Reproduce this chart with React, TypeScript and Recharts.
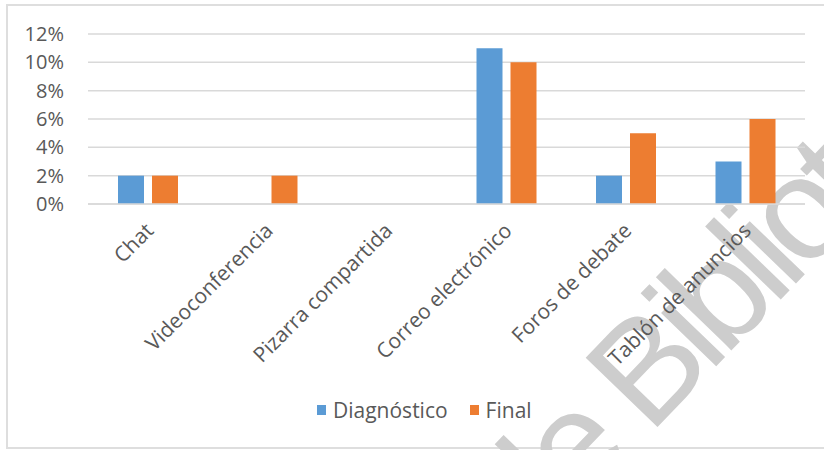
import React from "react";
import {
  BarChart,
  Bar,
  XAxis,
  YAxis,
  CartesianGrid,
  Legend,
} from "recharts";

const tools = [
  "Chat",
  "Videoconferencia",
  "Pizarra compartida",
  "Correo electrónico",
  "Foros de debate",
  "Tablón de anuncios",
];
const diagnostico = [2, 0, 0, 11, 2, 3];
const final = [2, 2, 0, 10, 5, 6];
const yTicks = [0, 2, 4, 6, 8, 10, 12];

const data = tools.map((tool, i) => ({
  tool,
  diagnostico: diagnostico[i],
  final: final[i],
}));

const BLUE = "#5B9BD5";
const ORANGE = "#ED7D31";
const TEXT = "#595959";
const FONT = "'Open Sans', sans-serif";

const ToolTick = (props: any) => {
  const { x, y, payload } = props;
  return (
    <g transform={`translate(${x + 7},${y + 20})`}>
      <text
        x={0}
        y={0}
        textAnchor="end"
        transform="rotate(-45)"
        fill={TEXT}
        fontSize={21}
        fontFamily={FONT}
      >
        {payload.value}
      </text>
    </g>
  );
};

const legendItems = [
  { label: "Diagnóstico", color: BLUE },
  { label: "Final", color: ORANGE },
];

const ChartLegend = () => (
  <div
    style={{
      display: "flex",
      alignItems: "center",
      gap: 22,
      paddingLeft: 317,
      fontFamily: FONT,
      fontSize: 21,
      color: TEXT,
    }}
  >
    {legendItems.map((item) => (
      <div key={item.label} style={{ display: "flex", alignItems: "center" }}>
        <span
          style={{
            width: 9,
            height: 10,
            background: item.color,
            marginRight: 7,
            display: "inline-block",
          }}
        />
        {item.label}
      </div>
    ))}
  </div>
);

export default function App() {
  return (
    <div
      style={{
        position: "absolute",
        left: 0,
        top: 0,
        width: 824,
        height: 450,
        background: "#fff",
        overflow: "hidden",
      }}
    >
      {/* outer frame, open on the right */}
      <div
        style={{
          position: "absolute",
          left: 6,
          top: 4,
          width: 840,
          height: 441,
          border: "2px solid #dedede",
        }}
      />
      {/* background watermark */}
      <svg
        width={824}
        height={450}
        style={{ position: "absolute", left: 0, top: 0 }}
      >
        <text
          x={530}
          y={559}
          transform="rotate(-46 530 559)"
          fontSize={145}
          letterSpacing={-10}
          fontFamily="'Liberation Sans', Arial, sans-serif"
          fill="#cdcdcd"
        >
          de Biblioteca
        </text>
      </svg>
      <div style={{ position: "absolute", left: 0, top: 0 }}>
        <BarChart
          width={824}
          height={450}
          data={data}
          margin={{ top: 34, right: 19, bottom: 0, left: 8 }}
          barSize={26}
          barGap={8}
        >
          <CartesianGrid
            vertical={false}
            stroke="#d9d9d9"
            strokeWidth={1.5}
          />
          <XAxis
            dataKey="tool"
            height={246}
            interval={0}
            axisLine={{ stroke: "#d9d9d9", strokeWidth: 1.5 }}
            tickLine={false}
            tick={<ToolTick />}
          />
          <YAxis
            width={80}
            domain={[0, 12]}
            ticks={yTicks}
            axisLine={false}
            tickLine={false}
            tickSize={0}
            tickMargin={24}
            tickFormatter={(v) => `${v}%`}
            tick={{ fill: TEXT, fontSize: 20, fontFamily: FONT }}
          />
          <Legend
            layout="horizontal"
            verticalAlign="middle"
            wrapperStyle={{ top: 396, left: 0, width: 824 }}
            content={<ChartLegend />}
          />
          <Bar
            dataKey="diagnostico"
            name="Diagnóstico"
            fill={BLUE}
            isAnimationActive={false}
          />
          <Bar
            dataKey="final"
            name="Final"
            fill={ORANGE}
            isAnimationActive={false}
          />
        </BarChart>
      </div>
    </div>
  );
}
